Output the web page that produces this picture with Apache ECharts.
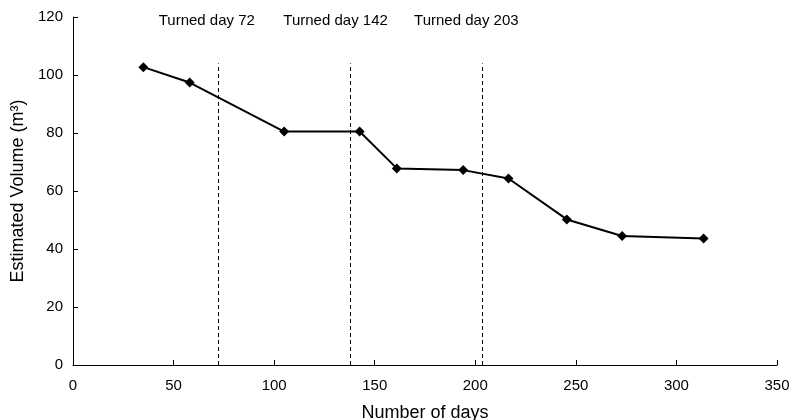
<!DOCTYPE html>
<html>
<head>
<meta charset="utf-8">
<script src="https://cdn.jsdelivr.net/npm/echarts@6/dist/echarts.min.js"></script>
<style>
  html, body { margin: 0; padding: 0; background: #fff; }
  #chart { width: 793px; height: 420px; }
</style>
</head>
<body>
<div id="chart"></div>
<script>
// days and estimated volume
const days = [35, 58, 105, 142.5, 161, 194, 216.5, 245.5, 273, 313.5];
const volume = [102.7, 97.4, 80.5, 80.5, 67.8, 67.2, 64.3, 50.2, 44.5, 43.6];

// turning events (dashed lines)
const turnDays = [72, 138, 203.5];
const turnLabels = ['Turned day 72', 'Turned day 142', 'Turned day 203'];
const turnTop = 104;

const font = 'Liberation Sans, Arial, sans-serif';

const chart = echarts.init(document.getElementById('chart'), null, { renderer: 'canvas' });

const labelShift = [-11, -15, -16];

const option = {
  animation: false,
  backgroundColor: '#fff',
  grid: { left: 73, right: 16, top: 17, bottom: 55, outerBoundsMode: 'none' },
  xAxis: {
    type: 'value',
    min: 0, max: 350, interval: 50,
    name: 'Number of days',
    nameLocation: 'middle',
    nameGap: 39,
    nameTextStyle: { fontFamily: font, fontSize: 18, color: '#000' },
    axisLine: { lineStyle: { color: '#000', width: 1 } },
    axisTick: { inside: true, length: 5, lineStyle: { color: '#000' } },
    axisLabel: { fontFamily: font, fontSize: 15, color: '#000', margin: 13 },
    splitLine: { show: false }
  },
  yAxis: {
    type: 'value',
    min: 0, max: 120, interval: 20,
    name: 'Estimated Volume (m³)',
    nameLocation: 'middle',
    nameGap: 44,
    nameTextStyle: { fontFamily: font, fontSize: 18, color: '#000' },
    axisLine: { show: true, lineStyle: { color: '#000', width: 1 } },
    axisTick: { show: true, inside: true, length: 5, lineStyle: { color: '#000' } },
    axisLabel: { fontFamily: font, fontSize: 15, color: '#000', margin: 10 },
    splitLine: { show: false }
  },
  series: [{
    type: 'line',
    data: days.map((d, i) => [d, volume[i]]),
    symbol: 'diamond',
    symbolSize: 10,
    itemStyle: { color: '#000' },
    lineStyle: { color: '#000', width: 2 },
    markLine: {
      silent: true,
      symbol: 'none',
      lineStyle: { color: '#000', type: [4, 3], width: 1 },
      label: {
        show: true,
        position: 'end',
        fontFamily: font,
        fontSize: 15,
        color: '#000'
      },
      data: turnDays.map((d, i) => [
        { coord: [d, 0] },
        {
          coord: [d, turnTop],
          label: { formatter: turnLabels[i], offset: [labelShift[i], -30] }
        }
      ])
    }
  }]
};

chart.setOption(option);
</script>
</body>
</html>
